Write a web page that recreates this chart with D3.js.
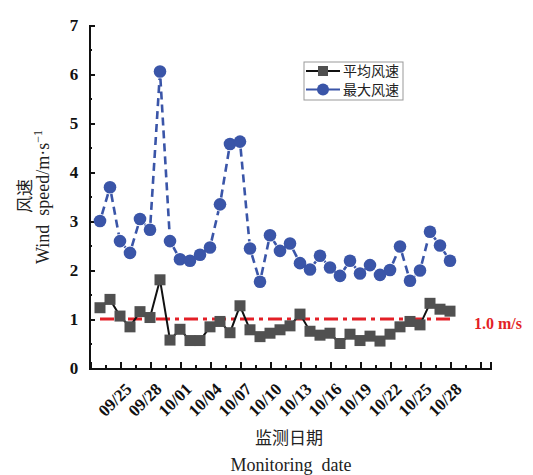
<!DOCTYPE html>
<html>
<head>
<meta charset="utf-8">
<script src="https://cdn.jsdelivr.net/npm/d3@7"></script>
<style>
  body { margin: 0; background: #fff; }
  .axis path, .axis line { stroke: #111; stroke-width: 2; shape-rendering: crispEdges; }
  .axis text { font-family: "Liberation Serif", serif; font-weight: bold; font-size: 17px; fill: #111; }
  .cn { font-family: "Noto Sans CJK SC", sans-serif; fill: #222; }
  .en { font-family: "Liberation Serif", serif; fill: #222; white-space: pre; }
</style>
</head>
<body>
<div id="chart"></div>
<script>
// monitoring days
var dates = ["09/23","09/24","09/25","09/26","09/27","09/28","09/29","09/30",
  "10/01","10/02","10/03","10/04","10/05","10/06","10/07","10/08","10/09","10/10",
  "10/11","10/12","10/13","10/14","10/15","10/16","10/17","10/18","10/19","10/20",
  "10/21","10/22","10/23","10/24","10/25","10/26","10/27","10/28"];

// 平均风速 (m/s)
var avgSpeed = [1.23,1.40,1.06,0.84,1.15,1.03,1.80,0.57,0.79,0.56,0.56,0.84,
  0.95,0.72,1.27,0.78,0.64,0.71,0.78,0.86,1.10,0.75,0.67,0.71,0.50,0.69,
  0.56,0.65,0.55,0.69,0.84,0.95,0.88,1.32,1.20,1.16];

// 最大风速 (m/s)
var maxSpeed = [3.00,3.69,2.59,2.35,3.04,2.82,6.05,2.59,2.22,2.19,2.31,2.46,
  3.34,4.57,4.62,2.44,1.76,2.71,2.39,2.54,2.14,2.01,2.29,2.05,1.88,2.19,
  1.93,2.10,1.90,2.00,2.48,1.78,1.99,2.78,2.50,2.19];

var tickLabels = ["09/25","09/28","10/01","10/04","10/07","10/10",
  "10/13","10/16","10/19","10/22","10/25","10/28"];

var yTicks = [0,1,2,3,4,5,6,7];
var threshold = 1.0;
var seriesNames = ["平均风速","最大风速"];

var width = 533, height = 475;
var svg = d3.select("#chart").append("svg")
    .attr("width", width)
    .attr("height", height);

// scales (x in day index)
var x = d3.scaleLinear().domain([-1.07, 39.07]).range([89.3, 490.7]);
var y = d3.scaleLinear().domain([0, 7]).range([368, 25]);

// minor ticks every 1.5 days, major every 3 days
var majorTicks = d3.range(-1, 39.01, 3);
var minorTicks = d3.range(0.5, 39, 3);

var xMinor = d3.axisBottom(x).tickValues(minorTicks).tickSize(-3).tickFormat("");
svg.append("g").attr("class", "axis")
    .attr("transform", "translate(0,368)")
    .call(xMinor);

var xAxis = d3.axisBottom(x)
    .tickValues(majorTicks)
    .tickSize(-6)
    .tickFormat(function(d) {
        var lab = dates[d];
        return tickLabels.indexOf(lab) >= 0 ? lab : "";
    });
var gx = svg.append("g").attr("class", "axis")
    .attr("transform", "translate(0,368)")
    .call(xAxis);
gx.selectAll("text")
    .attr("text-anchor", "end")
    .attr("y", 0)
    .attr("dy", "0.35em")
    .attr("transform", "translate(8,18) rotate(-45)");

var yMinor = d3.axisLeft(y).tickValues(d3.range(0.5, 7, 1)).tickSize(-3).tickFormat("");
svg.append("g").attr("class", "axis")
    .attr("transform", "translate(89.3,0)")
    .call(yMinor);

var yAxis = d3.axisLeft(y).tickValues(yTicks).tickSize(-6).tickPadding(11)
    .tickFormat(d3.format("d"));
svg.append("g").attr("class", "axis")
    .attr("transform", "translate(89.3,0)")
    .call(yAxis);

// reference line 1.0 m/s
svg.append("line")
    .attr("x1", x(0)).attr("x2", x(dates.length - 1))
    .attr("y1", y(threshold)).attr("y2", y(threshold))
    .attr("stroke", "#e31f26")
    .attr("stroke-width", 3)
    .attr("stroke-dasharray", "14,5,4,5");

svg.append("text")
    .attr("x", 474).attr("y", 329)
    .attr("class", "en")
    .style("fill", "#e31f26")
    .style("font-weight", "bold")
    .style("font-size", "16px")
    .text("1.0 m/s");

// max speed: dashed blue segments with a small gap at the symbols
var blue = "#3a55a8";
var segs = d3.range(maxSpeed.length - 1).map(function(i) {
    var x0 = x(i), y0 = y(maxSpeed[i]), x1 = x(i + 1), y1 = y(maxSpeed[i + 1]);
    var len = Math.sqrt((x1 - x0) * (x1 - x0) + (y1 - y0) * (y1 - y0));
    var g = 7 / len;
    return { x0: x0 + (x1 - x0) * g, y0: y0 + (y1 - y0) * g,
             x1: x1 - (x1 - x0) * g, y1: y1 - (y1 - y0) * g };
});
svg.selectAll(".maxseg")
    .data(segs)
    .enter().append("line")
    .attr("class", "maxseg")
    .attr("x1", function(d) { return d.x0; })
    .attr("y1", function(d) { return d.y0; })
    .attr("x2", function(d) { return d.x1; })
    .attr("y2", function(d) { return d.y1; })
    .attr("stroke", blue)
    .attr("stroke-width", 2.6)
    .attr("stroke-dasharray", "8,5");

svg.selectAll(".maxpt")
    .data(maxSpeed)
    .enter().append("circle")
    .attr("class", "maxpt")
    .attr("cx", function(d, i) { return x(i); })
    .attr("cy", function(d) { return y(d); })
    .attr("r", 6.3)
    .attr("fill", blue);

// average speed: solid black line with grey squares
var avgLine = d3.line()
    .x(function(d, i) { return x(i); })
    .y(function(d) { return y(d); });

svg.append("path")
    .datum(avgSpeed)
    .attr("d", avgLine)
    .attr("fill", "none")
    .attr("stroke", "#111")
    .attr("stroke-width", 2);

svg.selectAll(".avgpt")
    .data(avgSpeed)
    .enter().append("rect")
    .attr("class", "avgpt")
    .attr("x", function(d, i) { return x(i) - 5.5; })
    .attr("y", function(d) { return y(d) - 5.5; })
    .attr("width", 11)
    .attr("height", 11)
    .attr("fill", "#505050");

// legend
var legend = svg.append("g").attr("transform", "translate(304,62)");
legend.append("rect")
    .attr("width", 99).attr("height", 38)
    .attr("fill", "#fff")
    .attr("stroke", "#999")
    .attr("stroke-width", 1);

var rows = legend.selectAll(".lrow")
    .data(seriesNames)
    .enter().append("g")
    .attr("transform", function(d, i) { return "translate(0," + (9 + i * 18.5) + ")"; });

rows.append("line")
    .attr("x1", 2).attr("x2", 36)
    .attr("stroke", function(d, i) { return i === 0 ? "#111" : blue; })
    .attr("stroke-width", 2);
rows.filter(function(d, i) { return i === 0; }).append("rect")
    .attr("x", 14).attr("y", -5).attr("width", 10).attr("height", 10)
    .attr("fill", "#505050");
rows.filter(function(d, i) { return i === 1; }).append("circle")
    .attr("cx", 19).attr("r", 6)
    .attr("fill", blue);
rows.append("text")
    .attr("class", "cn")
    .attr("x", 39).attr("y", 5)
    .style("font-size", "14px")
    .text(function(d) { return d; });

// axis titles
svg.append("text")
    .attr("class", "cn")
    .attr("transform", "translate(31,196) rotate(-90)")
    .attr("text-anchor", "middle")
    .style("font-size", "17px")
    .text("风速");

var yt = svg.append("text")
    .attr("class", "en")
    .attr("transform", "translate(49,197) rotate(-90)")
    .attr("text-anchor", "middle")
    .style("font-size", "18px");
yt.append("tspan").text("Wind  speed/m\u00b7s");
yt.append("tspan").attr("dy", -7).style("font-size", "12px").text("\u22121");

svg.append("text")
    .attr("class", "cn")
    .attr("x", 289).attr("y", 444)
    .attr("text-anchor", "middle")
    .style("font-size", "17px")
    .text("监测日期");

svg.append("text")
    .attr("class", "en")
    .attr("x", 291).attr("y", 471)
    .attr("text-anchor", "middle")
    .style("font-size", "18px")
    .text("Monitoring  date");
</script>
</body>
</html>
